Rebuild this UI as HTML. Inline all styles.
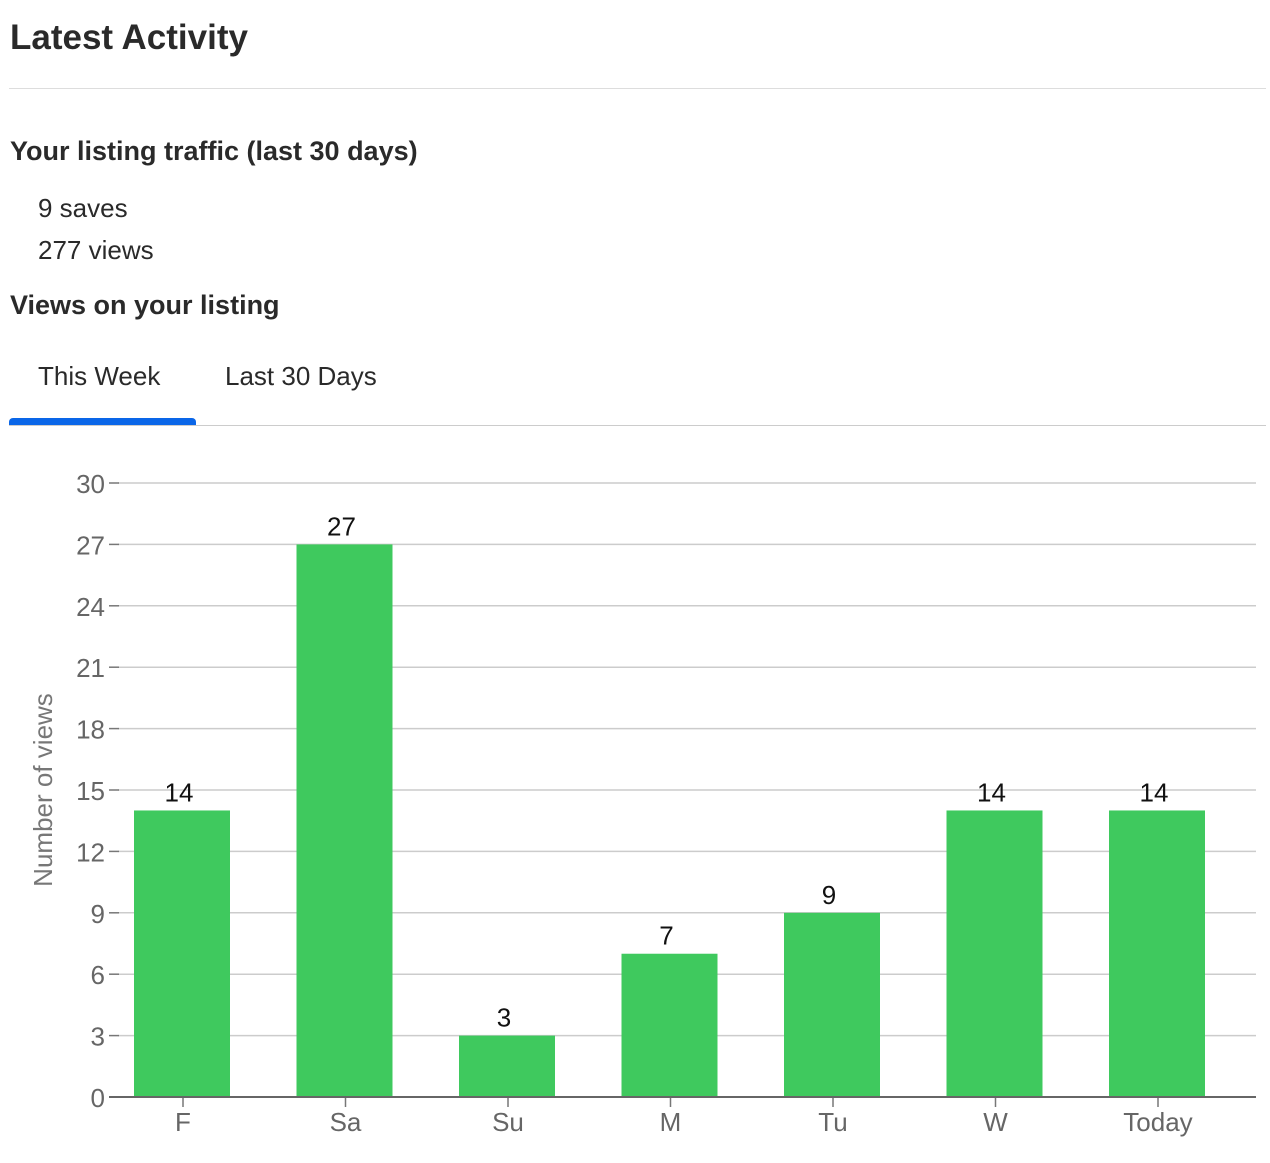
<!DOCTYPE html>
<html><head><meta charset="utf-8"><style>
body{margin:0;width:1270px;height:1163px;background:#fff;font-family:"Liberation Sans",sans-serif;color:#222;overflow:hidden;position:relative}
.a{position:absolute;white-space:nowrap}
</style></head><body>
<div class="a" style="left:10px;top:18px;font-size:35px;font-weight:bold;color:#2a2a2a">Latest Activity</div>
<div class="a" style="left:9px;top:88px;width:1257px;height:1px;background:#ddd"></div>
<div class="a" style="left:10px;top:136px;font-size:27px;font-weight:bold;color:#2a2a2a">Your listing traffic (last 30 days)</div>
<div class="a" style="left:38px;top:193px;font-size:26px;color:#2a2a2a">9 saves</div>
<div class="a" style="left:38px;top:235px;font-size:26px;color:#2a2a2a">277 views</div>
<div class="a" style="left:10px;top:290px;font-size:27px;font-weight:bold;color:#2a2a2a">Views on your listing</div>
<div class="a" style="left:38px;top:361px;font-size:26px;color:#2a2a2a">This Week</div>
<div class="a" style="left:225px;top:361px;font-size:26px;color:#2a2a2a">Last 30 Days</div>
<div class="a" style="left:9px;top:425px;width:1257px;height:1px;background:#ccc"></div>
<div class="a" style="left:9px;top:418px;width:187px;height:7px;background:#0a66e8;border-radius:4px 4px 0 0"></div>
<svg class="a" style="left:0;top:0" width="1270" height="1163" font-family="Liberation Sans, sans-serif">
<g id="g"></g>
<text transform="translate(52,790) rotate(-90)" text-anchor="middle" font-size="26" fill="#777">Number of views</text>
</svg>
<script>
const categories=["F","Sa","Su","M","Tu","W","Today"];
const values=[14,27,3,7,9,14,14];
const yTicks=[0,3,6,9,12,15,18,21,24,27,30];
const ns="http://www.w3.org/2000/svg";
const g=document.getElementById("g");
const y0=1097,y1=483,yMax=30;
function y(v){return y0-(v/yMax)*(y0-y1);}
function xc(i){return 182+i*162.5;}
function mk(t,a){const e=document.createElementNS(ns,t);for(const k in a)e.setAttribute(k,a[k]);g.appendChild(e);return e;}
yTicks.forEach(t=>{
  if(t>0){const l=mk("line",{x1:118,x2:1256,y1:y(t),y2:y(t),stroke:"#ccc","stroke-width":1.5});
  
  }
  const tk=mk("line",{x1:109,x2:119,y1:y(t),y2:y(t),stroke:"#777","stroke-width":1.5});
  
  
  const tx=mk("text",{x:105,y:y(t)+10,"text-anchor":"end","font-size":26,fill:"#666"});
  tx.textContent=t;
  
  
});
values.forEach((v,i)=>{
  const r=mk("rect",{x:xc(i)-48,y:y(v),width:96,height:y0-y(v),fill:"#3fc95e"});
  
  
  const lb=mk("text",{x:xc(i)-3,y:y(v)-9,"text-anchor":"middle","font-size":26,fill:"#111"});
  lb.textContent=v;
  
  
  const xt=mk("line",{x1:xc(i)+1,x2:xc(i)+1,y1:y0,y2:y0+10,stroke:"#777","stroke-width":1.5});
  
  
  const xl=mk("text",{x:xc(i)+1,y:y0+34,"text-anchor":"middle","font-size":26,fill:"#666"});
  xl.textContent=categories[i];
  
  
});
const ax=mk("line",{x1:109,x2:1256,y1:y0,y2:y0,stroke:"#666","stroke-width":2});


</script>
</body></html>
